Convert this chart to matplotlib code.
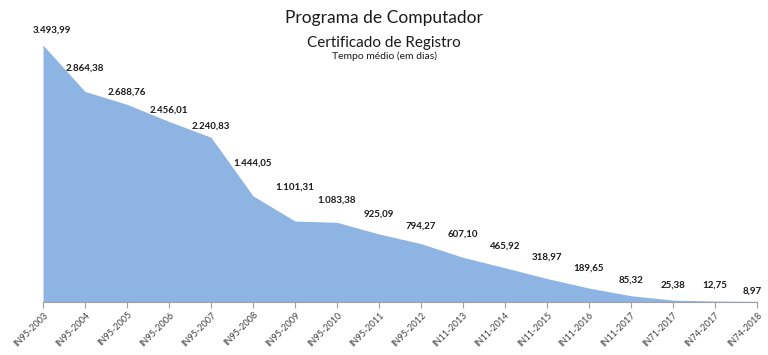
import numpy as np
import matplotlib.pyplot as plt

plt.rcParams['font.family'] = ['Lato', 'DejaVu Sans']

# Tempo médio (em dias) por norma/ano
periodos = ['IN95-2003', 'IN95-2004', 'IN95-2005', 'IN95-2006', 'IN95-2007',
            'IN95-2008', 'IN95-2009', 'IN95-2010', 'IN95-2011', 'IN95-2012',
            'IN11-2013', 'IN11-2014', 'IN11-2015', 'IN11-2016', 'IN11-2017',
            'IN71-2017', 'IN74-2017', 'IN74-2018']
tempo_medio = [3493.99, 2864.38, 2688.76, 2456.01, 2240.83, 1444.05, 1101.31,
               1083.38, 925.09, 794.27, 607.10, 465.92, 318.97, 189.65, 85.32,
               25.38, 12.75, 8.97]

# deslocamento dos rótulos (pixels) como no original
desloc_y = [15, 23, 12, 11, 11, 33, 34, 22, 20, 17, 23, 22, 21, 20, 16, 15, 16, 10]
desloc_x = [9] + [0] * 16 + [-5]


def formata_br(v):
    s = f"{v:,.2f}"
    return s.replace(',', 'X').replace('.', ',').replace('X', '.')


fig = plt.figure(figsize=(7.68, 3.55), dpi=100)
ax = fig.add_axes([43 / 768, 1 - 302 / 355, (757 - 43) / 768, 272 / 355])

x = np.arange(len(periodos))
ax.fill_between(x, tempo_medio, 0, color='#8EB4E3', linewidth=0)

for xi, v, dx, dy in zip(x, tempo_medio, desloc_x, desloc_y):
    ax.annotate(formata_br(v), (xi, v), xytext=(dx, dy), textcoords='offset pixels',
                ha='center', va='center', fontsize=7, fontweight='bold',
                color='#1a1a1a', annotation_clip=False)

ax.set_xlim(0, len(periodos) - 1)
ax.set_ylim(0, 3700)
ax.set_xticks(x)
ax.set_xticklabels(periodos, rotation=45, ha='right', rotation_mode='anchor',
                   fontsize=6.5, color='#404040')
ax.tick_params(axis='x', length=4, color='#a0a0a0', pad=2)
ax.set_yticks([])
for lado in ['top', 'right', 'left']:
    ax.spines[lado].set_visible(False)
ax.spines['bottom'].set_color('#a0a0a0')

fig.text(0.5, 1 - 18 / 355, 'Programa de Computador', ha='center', va='center',
         fontsize=12.5, color='#1a1a1a')
fig.text(0.5, 1 - 43 / 355, 'Certificado de Registro', ha='center', va='center',
         fontsize=11, color='#1a1a1a')
fig.text(0.5, 1 - 56 / 355, 'Tempo médio (em dias)', ha='center', va='center',
         fontsize=7.5, color='#1a1a1a')

fig.savefig('out.png', dpi=100)
